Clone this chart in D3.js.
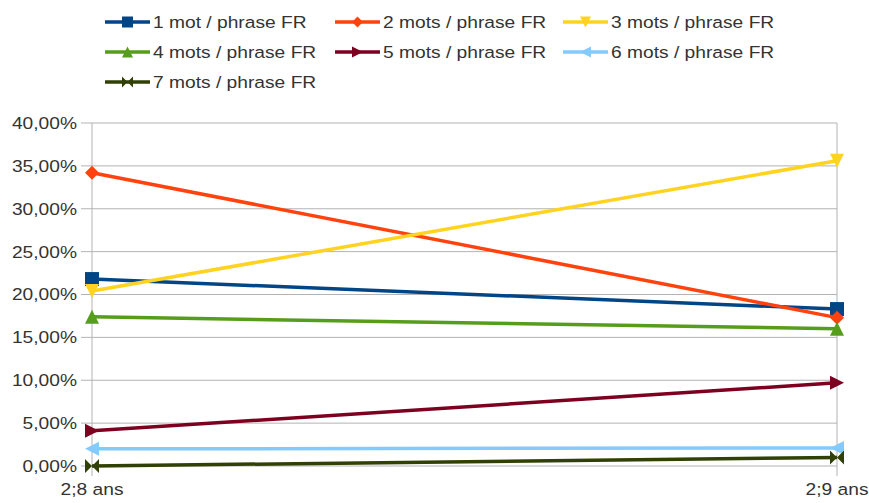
<!DOCTYPE html>
<html><head><meta charset="utf-8">
<script src="https://cdn.jsdelivr.net/npm/d3@7"></script>
<style>body{margin:0;background:#fff}svg{display:block}text{font-family:"Liberation Sans",Arial,sans-serif;font-size:17px;fill:#333}</style>
</head><body>
<svg id="c" width="869" height="503"></svg>
<script>
const categories = ["2;8 ans", "2;9 ans"];
const seriesNames = ["1 mot / phrase FR","2 mots / phrase FR","3 mots / phrase FR","4 mots / phrase FR","5 mots / phrase FR","6 mots / phrase FR","7 mots / phrase FR"];
const s1 = [21.8, 18.3];
const s2 = [34.2, 17.3];
const s3 = [20.4, 35.6];
const s4 = [17.4, 16.0];
const s5 = [4.1, 9.7];
const s6 = [2.0, 2.1];
const s7 = [0.0, 1.0];
const yTicks = [0,5,10,15,20,25,30,35,40];
const colors = ["#004586","#ff420e","#ffd320","#579d1c","#7e0021","#83caff","#314004"];
const shapes = ["square","diamond","down","up","right","left","bowtie"];
const values = [s1,s2,s3,s4,s5,s6,s7];

const svg = d3.select("#c");
const SX = 1.13;
const x = d3.scalePoint().domain(categories).range([92, 837]);
const y = d3.scaleLinear().domain([0, 40]).range([466, 123]);
const fmt = v => d3.format(".2f")(v).replace(".", ",") + "%";

function markerPath(shape, s) {
  const h = s / 2;
  switch (shape) {
    case "square": return `M${-h},${-h}H${h}V${h}H${-h}Z`;
    case "diamond": return `M0,${-h}L${h},0L0,${h}L${-h},0Z`;
    case "down": return `M${-h},${-h}L${h},${-h}L0,${h}Z`;
    case "up": return `M${-h},${h}L${h},${h}L0,${-h}Z`;
    case "right": return `M${-h},${-h}L${h},0L${-h},${h}Z`;
    case "left": return `M${h},${-h}L${-h},0L${h},${h}Z`;
    case "bowtie": return `M${-h},${-h}L0,0L${-h},${h}Z M${h},${-h}L0,0L${h},${h}Z`;
  }
}

// gridlines
const g = svg.append("g");
g.selectAll("line.h").data(yTicks).join("line")
  .attr("x1", 81).attr("x2", 837)
  .attr("y1", d => y(d)).attr("y2", d => y(d))
  .attr("stroke", "#b3b3b3").attr("stroke-width", 1);
g.selectAll("line.v").data(categories).join("line")
  .attr("x1", d => x(d)).attr("x2", d => x(d))
  .attr("y1", y(40)).attr("y2", 476)
  .attr("stroke", "#b3b3b3").attr("stroke-width", 1);

// y labels
g.selectAll("text.yl").data(yTicks).join("text")
  .attr("text-anchor", "end").attr("dy", "0.35em")
  .attr("transform", d => `translate(77,${y(d)}) scale(${SX},1)`)
  .text(d => fmt(d));
// x labels
g.selectAll("text.xl").data(categories).join("text")
  .attr("text-anchor", "middle")
  .attr("transform", d => `translate(${x(d)},495) scale(${SX},1)`)
  .text(d => d);

// series
const line = d3.line().x((d, i) => x(categories[i])).y(d => y(d));
values.forEach((vals, k) => {
  const sg = svg.append("g");
  sg.append("path").datum(vals).attr("d", line)
    .attr("fill", "none").attr("stroke", colors[k]).attr("stroke-width", 3.5);
  sg.selectAll("path.m").data(vals).join("path")
    .attr("transform", (d, i) => `translate(${x(categories[i])},${y(d)})`)
    .attr("d", markerPath(shapes[k], 14)).attr("fill", colors[k]);
});

// legend
const legX = [105, 335, 563];
const legY = [22, 52, 82];
seriesNames.forEach((name, k) => {
  const lx = legX[k % 3], ly = legY[Math.floor(k / 3)];
  const lg = svg.append("g");
  lg.append("line").attr("x1", lx).attr("x2", lx + 45).attr("y1", ly).attr("y2", ly)
    .attr("stroke", colors[k]).attr("stroke-width", 3.5);
  lg.append("path").attr("transform", `translate(${lx + 22.5},${ly})`)
    .attr("d", markerPath(shapes[k], 11)).attr("fill", colors[k]);
  lg.append("text").attr("dy", "0.35em")
    .attr("transform", `translate(${lx + 48},${ly}) scale(${SX},1)`)
    .text(name);
});
</script>
</body></html>
